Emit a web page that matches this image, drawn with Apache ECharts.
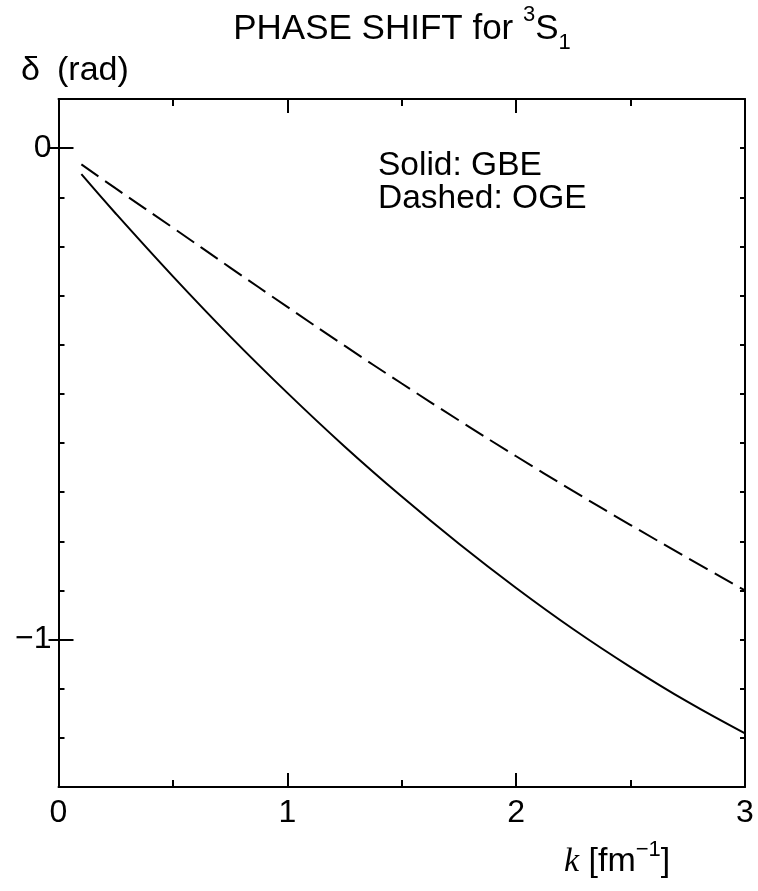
<!DOCTYPE html>
<html>
<head>
<meta charset="utf-8">
<title>Phase shift 3S1</title>
<script src="https://cdn.jsdelivr.net/npm/echarts@6/dist/echarts.min.js"></script>
<style>
  html, body { margin: 0; padding: 0; background: #fff; }
  #chart { width: 758px; height: 891px; }
</style>
</head>
<body>
<div id="chart"></div>
<script>
// k values (fm^-1) and phase shifts (rad)
var kValues = [0.1, 0.25, 0.5, 0.75, 1.0, 1.25, 1.5, 1.75, 2.0, 2.25, 2.5, 2.75, 3.0];
var gbeSolid = [-0.053, -0.133, -0.261, -0.383, -0.498, -0.607, -0.709, -0.805, -0.895, -0.979, -1.056, -1.127, -1.191];
var ogeDashed = [-0.033, -0.082, -0.162, -0.243, -0.323, -0.402, -0.479, -0.554, -0.627, -0.698, -0.767, -0.834, -0.900];

var xTickLabels = [0, 1, 2, 3];
var yTickLabels = [0, -1];

var FONT = "'Liberation Sans', Arial, Helvetica, sans-serif";
var black = '#000';

function pairs(xs, ys) {
  return xs.map(function (x, i) { return [x, ys[i]]; });
}

function fmt(v) {
  return v < 0 ? '\u2212' + Math.abs(v) : String(v);
}

var line = { show: true, onZero: false, lineStyle: { color: black, width: 2 } };
var gridBox = { left: 58.5, right: 13, top: 99, bottom: 104, containLabel: false, outerBoundsMode: 'none' };

var chart = echarts.init(document.getElementById('chart'), null, { renderer: 'canvas' });

var option = {
  backgroundColor: '#fff',
  animation: false,
  grid: [Object.assign({}, gridBox), Object.assign({}, gridBox)],
  xAxis: [
    {
      type: 'value', gridIndex: 0, position: 'bottom', min: 0, max: 3, interval: 1,
      axisLine: line,
      axisTick: { inside: true, length: 14, lineStyle: { color: black, width: 2 } },
      minorTick: { show: true, splitNumber: 2, length: 7, lineStyle: { color: black, width: 2 } },
      axisLabel: {
        color: black, fontSize: 32, fontFamily: FONT, margin: 10,
        customValues: xTickLabels, formatter: fmt
      },
      splitLine: { show: false }
    },
    {
      type: 'value', gridIndex: 0, position: 'top', min: 0, max: 3, interval: 1,
      axisLine: line,
      axisTick: { inside: true, length: 14, lineStyle: { color: black, width: 2 } },
      minorTick: { show: true, splitNumber: 2, length: 7, lineStyle: { color: black, width: 2 } },
      axisLabel: { show: false },
      splitLine: { show: false }
    },
    { type: 'value', gridIndex: 1, min: 0, max: 3, show: false },
    { type: 'value', gridIndex: 1, min: 0, max: 3, show: false, position: 'top' }
  ],
  yAxis: [
    {
      type: 'value', gridIndex: 0, position: 'left', min: -1.3, max: 0.1, interval: 0.1,
      axisLine: line,
      axisTick: { inside: true, length: 6, lineStyle: { color: black, width: 2 } },
      axisLabel: {
        color: black, fontSize: 32, fontFamily: FONT, margin: 7,
        customValues: yTickLabels, formatter: fmt
      },
      splitLine: { show: false }
    },
    {
      type: 'value', gridIndex: 0, position: 'right', min: -1.3, max: 0.1, interval: 0.1,
      axisLine: line,
      axisTick: { inside: true, length: 5, lineStyle: { color: black, width: 2 } },
      axisLabel: { show: false },
      splitLine: { show: false }
    },
    {
      type: 'value', gridIndex: 1, position: 'left', min: -1.3, max: 0.1,
      axisLine: { show: false },
      axisTick: { show: true, inside: true, length: 15, customValues: yTickLabels, lineStyle: { color: black, width: 2 } },
      axisLabel: { show: false },
      splitLine: { show: false }
    },
    {
      type: 'value', gridIndex: 1, position: 'right', min: -1.3, max: 0.1,
      axisLine: { show: false },
      axisTick: { show: true, inside: true, length: 10, customValues: yTickLabels, lineStyle: { color: black, width: 2 } },
      axisLabel: { show: false },
      splitLine: { show: false }
    }
  ],
  series: [
    {
      name: 'GBE', type: 'line', xAxisIndex: 0, yAxisIndex: 0,
      data: pairs(kValues, gbeSolid),
      smooth: 0.4, showSymbol: false,
      lineStyle: { color: black, width: 2 }
    },
    {
      name: 'OGE', type: 'line', xAxisIndex: 0, yAxisIndex: 0,
      data: pairs(kValues, ogeDashed),
      smooth: 0.4, showSymbol: false,
      lineStyle: { color: black, width: 2, type: [21, 8] }
    }
  ],
  graphic: [
    {
      type: 'text', x: 402, y: 29,
      style: {
        text: '{m|PHASE SHIFT for }{sup|3}{m|S}{sub|1}',
        align: 'center', verticalAlign: 'middle', fill: black,
        rich: {
          m: { fontSize: 35, fontFamily: FONT, lineHeight: 50, verticalAlign: 'middle' },
          sup: { fontSize: 22, fontFamily: FONT, lineHeight: 22, verticalAlign: 'top' },
          sub: { fontSize: 22, fontFamily: FONT, lineHeight: 28, verticalAlign: 'bottom' }
        }
      }
    },
    {
      type: 'text', x: 21, y: 71,
      style: { text: '\u03b4', font: '34px ' + FONT, fill: black, align: 'left', verticalAlign: 'middle' }
    },
    {
      type: 'text', x: 57, y: 71,
      style: { text: '(rad)', font: '34px ' + FONT, fill: black, align: 'left', verticalAlign: 'middle' }
    },
    {
      type: 'text', x: 378, y: 166,
      style: { text: 'Solid: GBE', font: '33.5px ' + FONT, fill: black, align: 'left', verticalAlign: 'middle' }
    },
    {
      type: 'text', x: 378, y: 199,
      style: { text: 'Dashed: OGE', font: '33.5px ' + FONT, fill: black, align: 'left', verticalAlign: 'middle' }
    },
    {
      type: 'text', x: 564, y: 862,
      style: {
        text: '{k|k}{sp| }{s|[fm}{sup|\u22121}{s|]}',
        align: 'left', verticalAlign: 'middle', fill: black,
        rich: {
          k: { fontSize: 34, fontFamily: "'Liberation Serif', 'Times New Roman', serif", fontStyle: 'italic', lineHeight: 46, verticalAlign: 'middle' },
          sp: { fontSize: 34, fontFamily: FONT, lineHeight: 46, verticalAlign: 'middle' },
          s: { fontSize: 34, fontFamily: FONT, lineHeight: 46, verticalAlign: 'middle' },
          sup: { fontSize: 22, fontFamily: FONT, lineHeight: 22, verticalAlign: 'top' }
        }
      }
    }
  ]
};

chart.setOption(option);
</script>
</body>
</html>
